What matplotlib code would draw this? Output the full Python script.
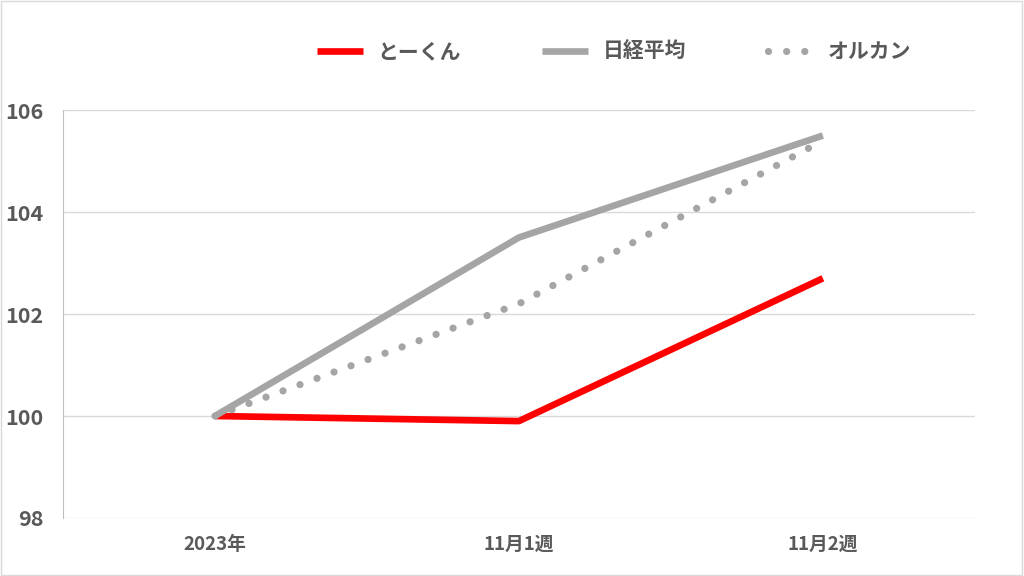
import matplotlib.pyplot as plt
from matplotlib.patches import Rectangle

plt.rcParams['font.family'] = ['Noto Sans CJK JP', 'DejaVu Sans']

categories = ["2023年", "11月1週", "11月2週"]
tokun = [100, 99.9, 102.7]
nikkei = [100, 103.5, 105.5]
orukan = [100, 102.2, 105.4]

text_color = "#595959"
gray = "#A5A5A5"

fig = plt.figure(figsize=(10.24, 5.76), dpi=100)
ax = fig.add_axes([0.0615, 0.1007, 0.8905, 0.7083])

x = range(len(categories))
ax.plot(x, tokun, color="#FF0000", lw=4.8, solid_capstyle="butt", label="とーくん")
ax.plot(x, nikkei, color=gray, lw=4.8, solid_capstyle="butt", label="日経平均")
ax.plot(x, orukan, color=gray, lw=5.2, linestyle=(0, (0.01, 2.5)),
        dash_capstyle="round", label="オルカン")

ax.set_xlim(-0.5, 2.5)
ax.set_ylim(98, 106)
ax.set_yticks([98, 100, 102, 104, 106])
ax.set_xticks(list(x))
ax.set_xticklabels(categories)
ax.yaxis.grid(True, color="#D9D9D9", lw=1)
ax.set_axisbelow(True)
for s in ["top", "right", "bottom"]:
    ax.spines[s].set_visible(False)
ax.spines["left"].set_color("#BFBFBF")
ax.tick_params(axis="both", length=0, colors=text_color)
ax.tick_params(axis="y", pad=14, labelsize=15.5)
ax.tick_params(axis="x", pad=12, labelsize=13.5)
for lbl in ax.get_xticklabels() + ax.get_yticklabels():
    lbl.set_fontweight("bold")

leg = fig.legend(loc="center", bbox_to_anchor=(0.6, 0.91), ncol=3, frameon=False,
                 handlelength=2.2, columnspacing=3.9, handletextpad=0.7,
                 prop={"size": 15, "weight": "bold"})
for t in leg.get_texts():
    t.set_color(text_color)

fig.patches.append(Rectangle((0.001, 0.001), 0.997, 0.997, transform=fig.transFigure,
                             fill=False, edgecolor="#D9D9D9", lw=1))

fig.savefig("out.png", dpi=100)
